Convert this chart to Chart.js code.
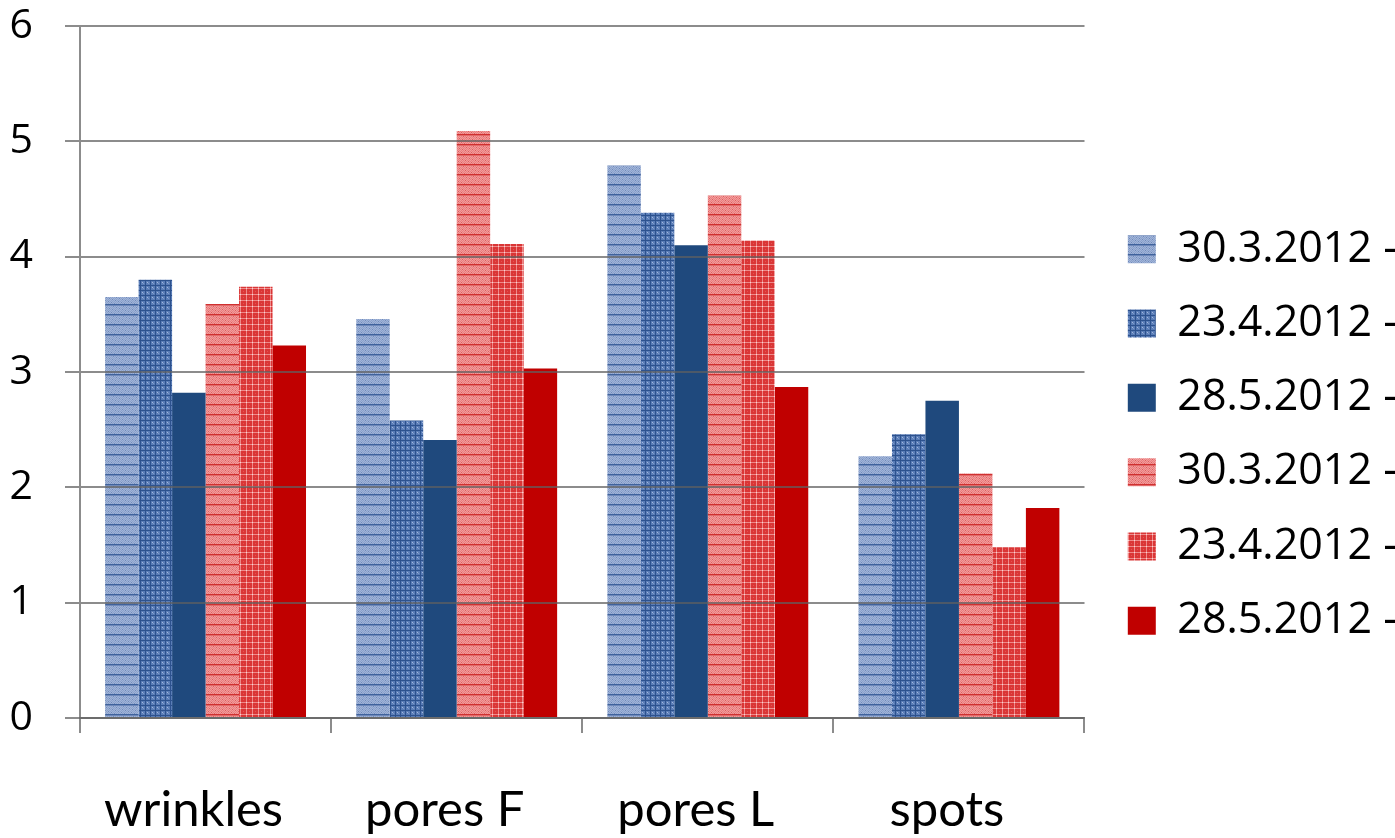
<!DOCTYPE html>
<html>
<head>
<meta charset="utf-8">
<script src="https://cdn.jsdelivr.net/npm/chart.js@4/dist/chart.umd.min.js"></script>
<style>
  html, body { margin: 0; padding: 0; background: #ffffff; }
  #wrap { position: relative; width: 1395px; height: 838px; }
</style>
</head>
<body>
<div id="wrap"><canvas id="c" width="1395" height="838"></canvas></div>
<script>
// Skin measurements per area, three sessions per group
const categories = ['wrinkles', 'pores F', 'pores L', 'spots'];
const seriesLabels = ['30.3.2012 -', '23.4.2012 -', '28.5.2012 -', '30.3.2012 -', '23.4.2012 -', '28.5.2012 -'];

const blue1 = [3.65, 3.46, 4.79, 2.27];
const blue2 = [3.80, 2.58, 4.38, 2.46];
const blue3 = [2.82, 2.41, 4.10, 2.75];
const red1  = [3.59, 5.09, 4.53, 2.12];
const red2  = [3.74, 4.11, 4.14, 1.48];
const red3  = [3.23, 3.03, 2.87, 1.82];

const yTicks = [0, 1, 2, 3, 4, 5, 6];

// Small repeating tiles used as textured bar fills
function makeTile(w, h, painter) {
  const cv = document.createElement('canvas');
  cv.width = w; cv.height = h;
  const g = cv.getContext('2d');
  painter(g, w, h);
  return document.getElementById('c').getContext('2d').createPattern(cv, 'repeat');
}
function px(g, x, y, col) { g.fillStyle = col; g.fillRect(x, y, 1, 1); }

// light blue, fine weave with horizontal stripes
const patBlueLight = makeTile(10, 10, (g, w, h) => {
  g.fillStyle = '#8AA1CB'; g.fillRect(0, 0, w, h);
  for (let y = 0; y < h; y++) for (let x = 0; x < w; x++) {
    if ((x + y) % 2 === 0) px(g, x, y, '#A1B4D8');
    else if ((x * 3 + y) % 5 === 0) px(g, x, y, '#6F8ABB');
  }
  g.fillStyle = '#3F629C'; g.fillRect(0, 4, w, 1);
  g.fillStyle = '#6E88B8'; g.fillRect(0, 5, w, 1);
});

// mid blue, checked grid
const patBlueGrid = makeTile(5, 5, (g, w, h) => {
  g.fillStyle = '#5A7DB7'; g.fillRect(0, 0, w, h);
  g.fillStyle = '#2D528E'; g.fillRect(0, 0, w, 1); g.fillRect(0, 0, 1, h);
  px(g, 2, 2, '#A3B8DC'); px(g, 3, 3, '#809ACA');
});

// light red, fine weave with horizontal stripes
const patRedLight = makeTile(10, 10, (g, w, h) => {
  g.fillStyle = '#EA7F7F'; g.fillRect(0, 0, w, h);
  for (let y = 0; y < h; y++) for (let x = 0; x < w; x++) {
    if ((x + y) % 2 === 0) px(g, x, y, '#F29C9C');
    else if ((x * 3 + y) % 5 === 0) px(g, x, y, '#DE5E5E');
  }
  g.fillStyle = '#D03030'; g.fillRect(0, 4, w, 1);
  g.fillStyle = '#E06A6A'; g.fillRect(0, 5, w, 1);
});

// red plaid
const patRedPlaid = makeTile(6, 6, (g, w, h) => {
  g.fillStyle = '#DA3636'; g.fillRect(0, 0, w, h);
  g.fillStyle = '#EE8A8A'; g.fillRect(0, 0, w, 1); g.fillRect(0, 0, 1, h);
  px(g, 0, 0, '#FAD2D2');
  px(g, 3, 3, '#E25454');
});

const fills = [patBlueLight, patBlueGrid, '#1F497D', patRedLight, patRedPlaid, '#C00000'];
const values = [blue1, blue2, blue3, red1, red2, red3];

const gridGray = 'rgba(95,95,95,0.72)';

// keeps the legend block a little clear of the plot's right edge
const legendShift = {
  id: 'legendShift',
  afterLayout(chart) {
    const lg = chart.legend;
    if (lg) { lg.left += 12; lg.right += 12; lg.top += 3; lg.bottom += 3; }
  }
};

new Chart(document.getElementById('c'), {
  type: 'bar',
  data: {
    labels: categories,
    datasets: values.map((v, i) => ({
      label: seriesLabels[i],
      data: v,
      backgroundColor: fills[i],
      borderWidth: 0,
      categoryPercentage: 0.8,
      barPercentage: 1.0
    }))
  },
  plugins: [legendShift],
  options: {
    responsive: false,
    animation: false,
    devicePixelRatio: 1,
    layout: { padding: { top: 26, right: 0, bottom: 0, left: 0 } },
    plugins: {
      legend: {
        position: 'right',
        align: 'center',
        labels: {
          boxWidth: 28,
          boxHeight: 28,
          padding: 31.3,
          color: '#000000',
          font: { family: '"Open Sans"', size: 43 }
        }
      },
      tooltip: { enabled: false }
    },
    scales: {
      x: {
        offset: true,
        afterFit: (s) => { s.height = 120; s.paddingLeft = 0; s.paddingRight = 0; },
        grid: {
          offset: true,
          drawOnChartArea: false,
          drawTicks: true,
          tickLength: 15,
          color: gridGray,
          lineWidth: 2,
          z: 1
        },
        border: { display: true, color: gridGray, width: 2, z: 1 },
        ticks: {
          color: '#000000',
          padding: 48,
          labelOffset: -12,
          maxRotation: 0,
          font: { family: 'Lato', size: 49 }
        }
      },
      y: {
        min: 0,
        max: 6,
        afterBuildTicks: (scale) => { scale.ticks = yTicks.map(v => ({ value: v })); },
        afterFit: (s) => { s.width = 80; s.paddingTop = 0; s.paddingBottom = 0; },
        grid: {
          color: gridGray,
          lineWidth: 2,
          tickLength: 15,
          z: 1
        },
        border: { display: true, color: gridGray, width: 2, z: 1 },
        ticks: {
          color: '#000000',
          padding: 32,
          font: { family: '"Open Sans"', size: 41 }
        }
      }
    }
  }
});
</script>
</body>
</html>
